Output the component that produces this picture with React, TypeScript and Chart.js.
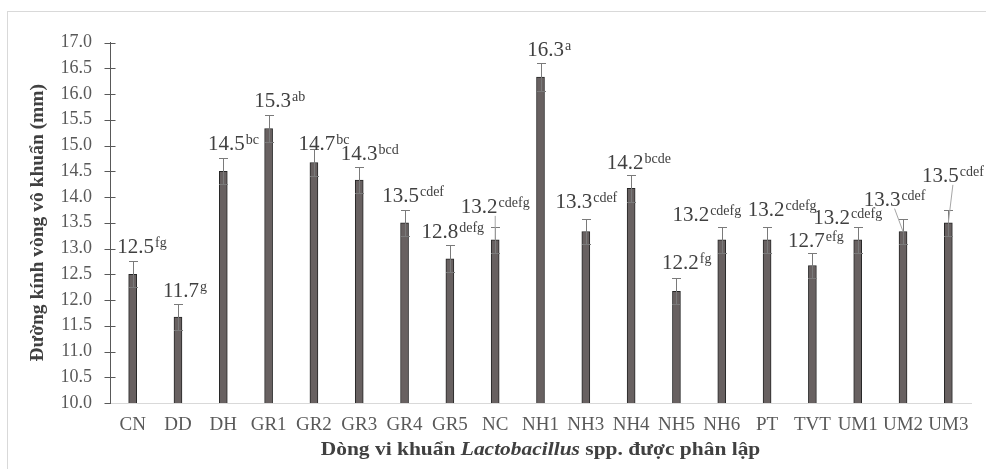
import React, { useEffect, useRef } from "react";
import { Chart, registerables } from "chart.js";

Chart.register(...registerables);

// ---------- data ----------
const categories = ["CN", "DD", "DH", "GR1", "GR2", "GR3", "GR4", "GR5", "NC", "NH1", "NH3", "NH4", "NH5", "NH6", "PT", "TVT", "UM1", "UM2", "UM3"];
const meanValues = [12.5, 11.67, 14.5, 15.33, 14.67, 14.33, 13.5, 12.8, 13.17, 16.33, 13.33, 14.17, 12.17, 13.17, 13.17, 12.67, 13.17, 13.33, 13.5];
const errorValues = [0.25, 0.25, 0.25, 0.26, 0.26, 0.25, 0.25, 0.26, 0.25, 0.27, 0.25, 0.26, 0.25, 0.25, 0.25, 0.25, 0.25, 0.25, 0.25];
const valueLabels = ["12.5", "11.7", "14.5", "15.3", "14.7", "14.3", "13.5", "12.8", "13.2", "16.3", "13.3", "14.2", "12.2", "13.2", "13.2", "12.7", "13.2", "13.3", "13.5"];
const groupLetters = ["fg", "g", "bc", "ab", "bc", "bcd", "cdef", "defg", "cdefg", "a", "cdef", "bcde", "fg", "cdefg", "cdefg", "efg", "cdefg", "cdef", "cdef"];
const yMin = 10;
const yMax = 17;
const yStep = 0.5;
const yTitle = "Đường kính vòng vô khuẩn (mm)";
const xTitleParts = [
  { text: "Dòng vi khuẩn ", italic: false },
  { text: "Lactobacillus", italic: true },
  { text: " spp. được phân lập", italic: false },
];

// ---------- style (label nudges relative to default placement) ----------
const labelNudge: [number, number][] = [
  [3, -1], [3, 0], [3, -1], [4, -1], [3, 8], [0, 0], [-4, -1], [-10, 0], [-16, -7], [5, 0],
  [-12, -4], [-6, 1], [4, -2], [-31, 1], [-1, -4], [-6, 1], [-26, 4], [-21, -6], [-8, -21],
];
const leaderIdx = [8, 17, 18];
const SERIF = '"Liberation Serif", "Times New Roman", serif';
const TITLE_STRETCH = 1.1;

const decorPlugin = {
  id: "decor",
  beforeDraw(chart: any) {
    const ctx = chart.ctx;
    ctx.save();
    ctx.fillStyle = "#ffffff";
    ctx.fillRect(0, 0, chart.width, chart.height);
    ctx.strokeStyle = "#d9d9d9";
    ctx.lineWidth = 1;
    ctx.strokeRect(7.5, 11.5, chart.width + 20, chart.height + 20);
    ctx.restore();
  },
  afterDatasetsDraw(chart: any) {
    const ctx = chart.ctx;
    const x = chart.scales.x;
    const y = chart.scales.y;
    ctx.save();
    // y tick marks crossing the axis
    ctx.strokeStyle = "#595959";
    ctx.lineWidth = 1;
    const left = Math.round(chart.chartArea.left) + 0.5;
    y.ticks.forEach((t: any) => {
      const py = Math.round(y.getPixelForValue(t.value)) + 0.5;
      ctx.beginPath();
      ctx.moveTo(left - 6, py);
      ctx.lineTo(t.value === yMin ? left : left + 5, py);
      ctx.stroke();
    });
    // error bars
    ctx.strokeStyle = "#7a7a7a";
    meanValues.forEach((v, i) => {
      const px = Math.round(x.getPixelForValue(i)) + 0.5;
      const top = Math.round(y.getPixelForValue(v + errorValues[i])) + 0.5;
      const bot = Math.round(y.getPixelForValue(v - errorValues[i])) + 0.5;
      ctx.beginPath();
      ctx.moveTo(px, top);
      ctx.lineTo(px, bot);
      ctx.moveTo(px - 4.5, top);
      ctx.lineTo(px + 4.5, top);
      ctx.moveTo(px - 4.5, bot);
      ctx.lineTo(px + 4.5, bot);
      ctx.stroke();
    });
    ctx.restore();
  },
  afterDraw(chart: any) {
    const ctx = chart.ctx;
    const x = chart.scales.x;
    const y = chart.scales.y;
    const area = chart.chartArea;
    ctx.save();
    // data labels with superscript letters
    meanValues.forEach((v, i) => {
      const bx = x.getPixelForValue(i);
      const capTop = y.getPixelForValue(v + errorValues[i]);
      const [dx, dy] = labelNudge[i];
      const cx = bx + dx;
      const cy = capTop - 14 + dy;
      ctx.font = `21px ${SERIF}`;
      const w1 = ctx.measureText(valueLabels[i]).width;
      ctx.font = `14px ${SERIF}`;
      const w2 = ctx.measureText(groupLetters[i]).width;
      const x0 = cx - w1 / 2;
      const base = cy + 7;
      if (leaderIdx.includes(i)) {
        const lx = x0 + (w1 + w2 + 1) / 2;
        ctx.strokeStyle = "#a6a6a6";
        ctx.lineWidth = 1;
        ctx.beginPath();
        ctx.moveTo(lx, base + 3);
        ctx.lineTo(bx, y.getPixelForValue(v));
        ctx.stroke();
      }
      ctx.fillStyle = "#404040";
      ctx.textAlign = "left";
      ctx.textBaseline = "alphabetic";
      ctx.font = `21px ${SERIF}`;
      ctx.fillText(valueLabels[i], x0, base);
      ctx.font = `14px ${SERIF}`;
      ctx.fillText(groupLetters[i], x0 + w1 + 1, base - 6);
    });
    // y title
    ctx.fillStyle = "#404040";
    ctx.font = `bold 19.5px ${SERIF}`;
    ctx.textAlign = "center";
    ctx.textBaseline = "middle";
    ctx.translate(38, (area.top + area.bottom) / 2);
    ctx.rotate(-Math.PI / 2);
    ctx.fillText(yTitle, 0, 0);
    ctx.setTransform(1, 0, 0, 1, 0, 0);
    // x title (mixed italic), slightly stretched horizontally
    const fonts = xTitleParts.map((p) => (p.italic ? `italic bold 19.5px ${SERIF}` : `bold 19.5px ${SERIF}`));
    const widths = xTitleParts.map((p, k) => {
      ctx.font = fonts[k];
      return ctx.measureText(p.text).width;
    });
    const total = widths.reduce((a, b) => a + b, 0) * TITLE_STRETCH;
    const startX = (area.left + area.right) / 2 - total / 2;
    ctx.translate(startX, 450);
    ctx.scale(TITLE_STRETCH, 1);
    ctx.textAlign = "left";
    ctx.textBaseline = "middle";
    let tx = 0;
    xTitleParts.forEach((p, k) => {
      ctx.font = fonts[k];
      ctx.fillText(p.text, tx, 0);
      tx += widths[k];
    });
    ctx.restore();
  },
};

export default function App() {
  const ref = useRef<HTMLCanvasElement | null>(null);
  useEffect(() => {
    if (!ref.current) return;
    const chart = new Chart(ref.current, {
      type: "bar",
      data: {
        labels: categories,
        datasets: [
          {
            data: meanValues,
            backgroundColor: "#686161",
            borderColor: "#262626",
            borderWidth: 1,
            barThickness: 8,
          },
        ],
      },
      options: {
        animation: false,
        responsive: false,
        maintainAspectRatio: false,
        layout: { padding: { left: 0, right: 15, top: 42.5, bottom: 0 } },
        plugins: { legend: { display: false }, tooltip: { enabled: false } },
        scales: {
          x: {
            grid: { display: false, drawTicks: false },
            border: { display: true, color: "#d9d9d9", width: 1 },
            ticks: {
              color: "#595959",
              font: { family: SERIF, size: 19 },
              padding: 11,
              maxRotation: 0,
              autoSkip: false,
            },
            afterFit: (s: any) => {
              s.height = 66;
            },
          },
          y: {
            min: yMin,
            max: yMax,
            grid: { display: false, drawTicks: false },
            border: { display: true, color: "#595959", width: 1 },
            ticks: {
              stepSize: yStep,
              color: "#595959",
              font: { family: SERIF, size: 18 },
              padding: 18,
              callback: (v: any) => Number(v).toFixed(1),
            },
            afterFit: (s: any) => {
              s.width = 110;
            },
          },
        },
      },
      plugins: [decorPlugin],
    });
    return () => chart.destroy();
  }, []);
  return (
    <div style={{ position: "absolute", left: 0, top: 0, width: 986, height: 469 }}>
      <canvas ref={ref} width={986} height={469} style={{ display: "block", width: 986, height: 469 }} />
    </div>
  );
}
